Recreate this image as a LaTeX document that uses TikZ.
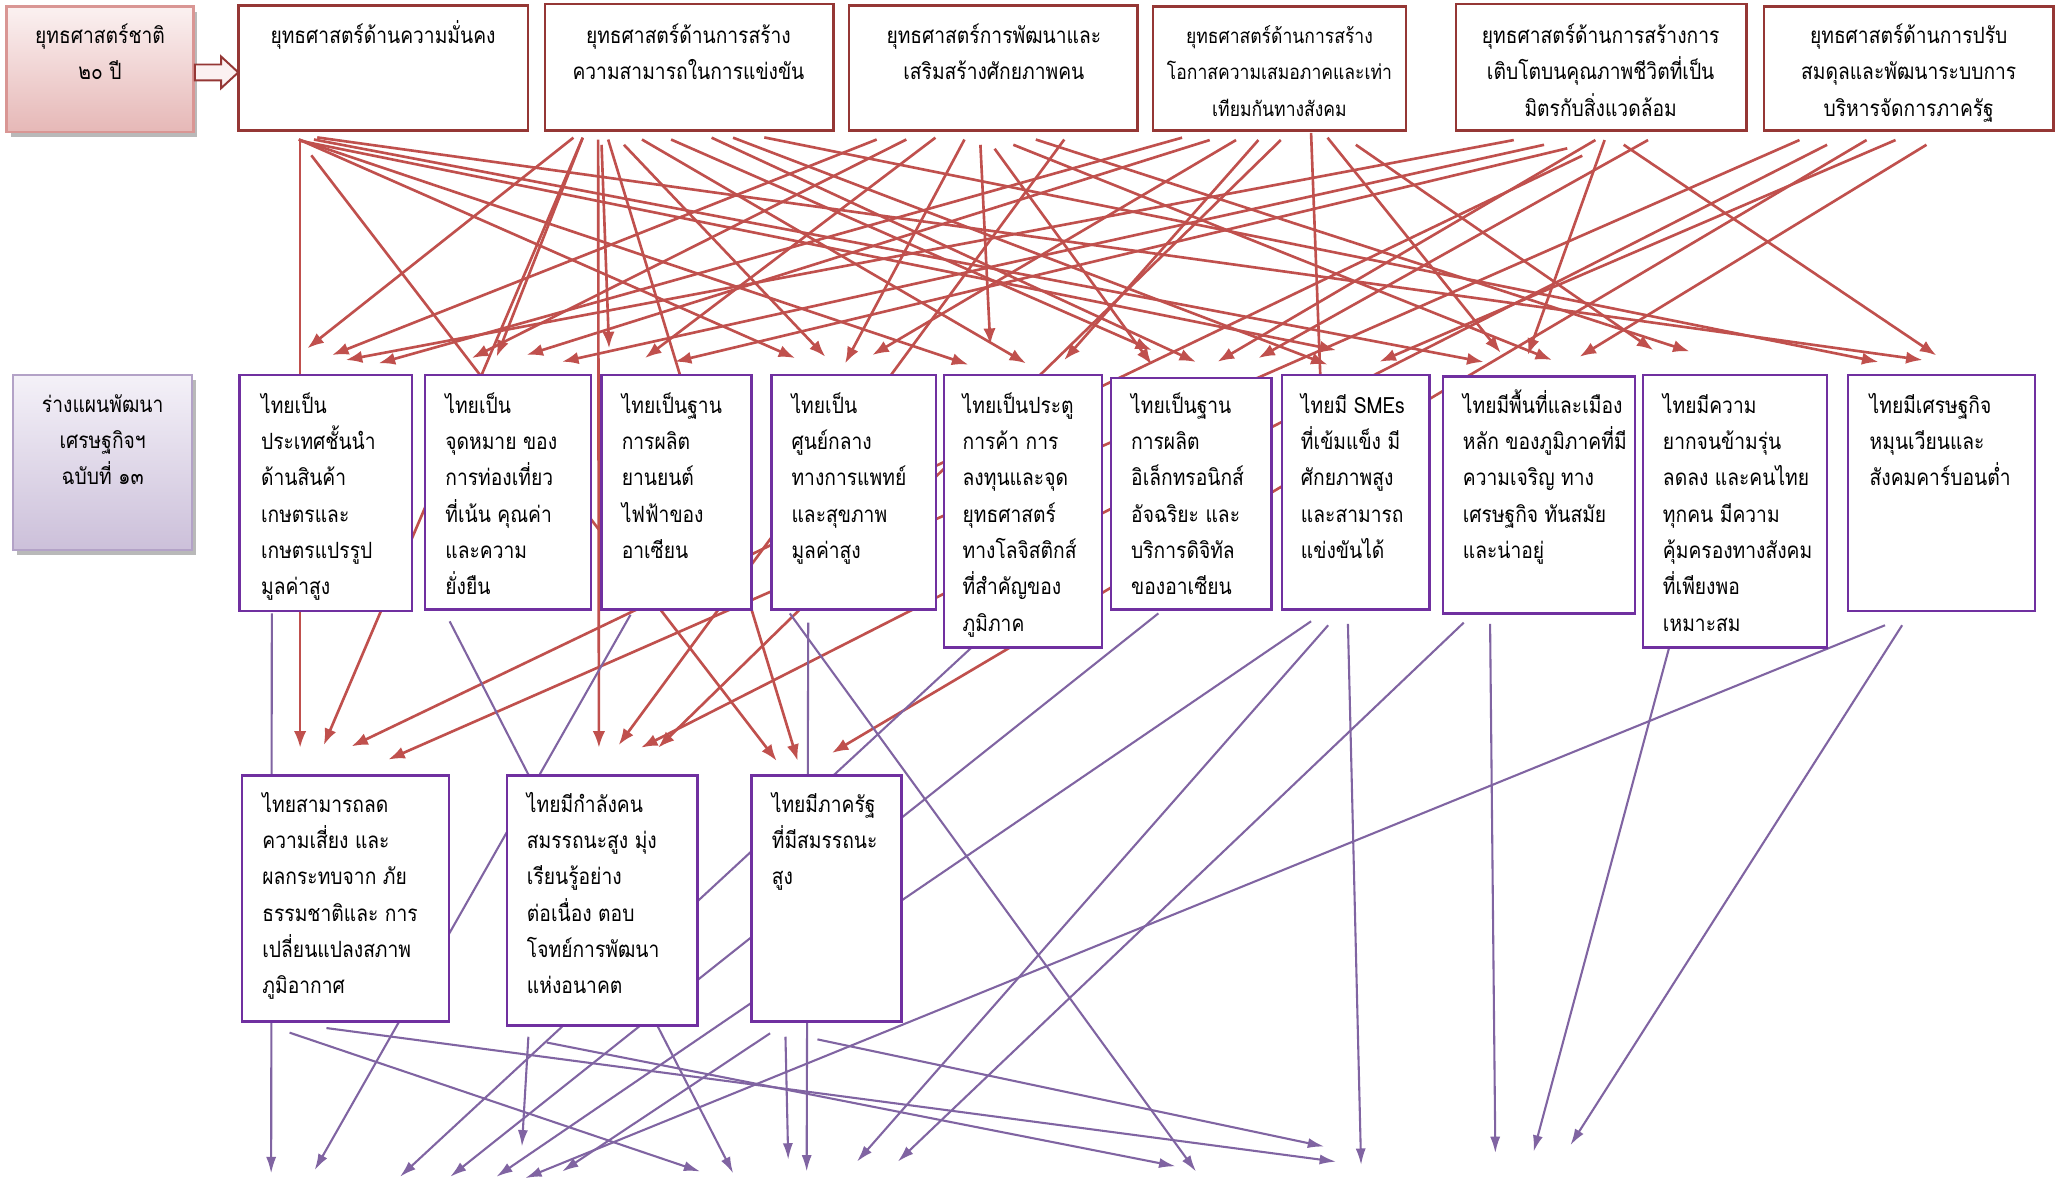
\documentclass[tikz,border=0pt]{standalone}
\usepackage{fontspec}
\newfontfamily\thai[Script=Thai,FakeStretch=0.86]{Loma}
\usetikzlibrary{arrows.meta,fit,calc}
\definecolor{lred}{HTML}{C0504D}
\definecolor{lpur}{HTML}{8064A2}
\definecolor{bred}{HTML}{953735}
\definecolor{bpur}{HTML}{7030A0}
\definecolor{pinkA}{HTML}{FBF1F1}
\definecolor{pinkB}{HTML}{E6B8B7}
\definecolor{pinkE}{HTML}{D99694}
\definecolor{lavA}{HTML}{F4F1F8}
\definecolor{lavB}{HTML}{CCC0DA}
\definecolor{lavE}{HTML}{B3A2C7}
\newcommand\lefttab[1]{\begin{tabular}[t]{@{}l@{}}#1\end{tabular}}
\newcommand\centab[1]{\begin{tabular}[t]{@{}c@{}}#1\end{tabular}}
\tikzset{
  redarr/.style={draw=lred, line width=1.2pt, -{Latex[length=7.5pt,width=5.6pt]}},
  redln/.style={draw=lred, line width=1.2pt},
  purarr/.style={draw=lpur, line width=0.95pt, -{Latex[length=7.5pt,width=4.6pt]}},
  topbox/.style={draw=bred, line width=1.2pt, fill=white, inner sep=0pt},
  midbox/.style={draw=bpur, line width=1.1pt, fill=white, inner sep=0pt},
  txt/.style={anchor=base west, inner sep=0pt},
  ctxt/.style={anchor=base, inner sep=0pt},
}
\begin{document}
\begin{tikzpicture}[x=0.6pt,y=-0.6pt,font={\thai\fontsize{10.2}{16.56}\selectfont}]
\useasboundingbox (0,0) rectangle (1568,902);
\fill[white] (0,0) rectangle (1568,902);

% ---------- red connectors (top row -> middle / bottom rows)
\foreach \xa/\ya/\xb/\yb [count=\i] in {
228/107/228/568, 236.5/118/590/578, 227/106/604/272, 227/106/735.6/277,
228/107/1015/266, 238.5/106/1127/275, 241/104.4/1460.5/273.5,
435.6/104.6/233.5/264.6, 442.7/104.6/377.3/271, 442.7/104.6/246/566,
454.4/106/455/568, 457/110/462.7/264.6, 462/106/606/578, 474/110/627/271,
487.7/106/779.4/276, 509.8/106/875/266, 540.6/104.6/908.5/275,
556.9/104.6/1008.5/277, 580.6/104.4/1427/275, 666/106/252.3/269.7,
688.5/106/358.5/272, 710.6/104.6/490/272, 732.7/106/642/276,
744.8/110/752.3/262, 755.6/113/875/277, 769.8/110/1179/273.5,
786.9/106/1283.5/267, 808.5/106/470/566, 898/104.6/287.7/276,
919/106.4/400/269.7, 939/106.4/662.7/269.7, 956/106.4/808.5/273.5,
973/106.4/500/568, 1008.5/104.6/1140/268, 1030/110/1256/266,
1150/106.4/262.7/273.5, 1173/110/427/274.8, 1190.6/112.7/512.7/274.8,
1202/118.3/267/567, 1212/106.4/925/274.8, 1219/106.4/1160.6/269.7,
1233.5/110/1471/270, 1252/106.4/956/272, 1367/106.4/295/577,
1388/110/487/568, 1418/106.4/632/572, 1440/106.4/1048/274.8,
1463.5/110/1200/271}
{
  \coordinate (rs\i) at (\xa,\ya);
  \coordinate (re\i) at (\xb,\yb);
  \draw[redarr] (rs\i) -- (re\i);
}
\coordinate (rsv) at (996,101);
\coordinate (rev) at (1003,285);
\draw[redln] (rsv) -- (rev);

% ---------- purple connectors (middle / bottom rows -> below)
\foreach \xa/\ya/\xb/\yb [count=\i] in {
206.5/466/206/891.4, 479/467/239/889, 738/492/303.8/894, 880/466/342/894,
996/472/377/894, 1432/475/399/895, 585/785/427/890, 401.4/787.6/396.5/871,
220/784.5/532/890, 341.6/472/557/891.4, 596.7/787.6/598.8/881,
614/473/612.8/890, 1009/475/651/882.5, 1112/473/682/882.5,
415.4/792/893/886, 600/466/908.6/890, 621/789.6/1006/871,
248/781/1015/882.5, 1024/474/1034/885, 1132/474/1136/876,
1268/492/1165/875, 1445/475/1193/870}
{
  \coordinate (ps\i) at (\xa,\ya);
  \coordinate (pe\i) at (\xb,\yb);
  \draw[purarr] (ps\i) -- (pe\i);
}

% ---------- top row
\fill[gray!55] (8,9) rectangle (150,104);
\node[fit={(5,5) (147,100)}, inner sep=0pt, draw=pinkE, line width=1pt,
      top color=pinkA, bottom color=pinkB] (nat) {};
\node[ctxt] (natt) at (76,33) {\centab{ยุทธศาสตร์ชาติ\\๒๐ ปี}};
\draw[draw=bred, fill=pinkA, line width=0.9pt] (148,49) -- (168,49) -- (168,43) -- (181,55) -- (168,67) -- (168,61) -- (148,61) -- cycle;

\node[topbox, fit={(181,4) (401,99)}] (t1) {};
\node[topbox, fit={(414,3) (633,99)}] (t2) {};
\node[topbox, fit={(645,4) (864,99)}] (t3) {};
\node[topbox, fit={(876,5) (1068,99)}] (t4) {};
\node[topbox, fit={(1106,3) (1327,99)}] (t5) {};
\node[topbox, fit={(1340,5) (1560,99)}] (t6) {};
\node[ctxt] (t1t) at (291,33) {\centab{ยุทธศาสตร์ด้านความมั่นคง}};
\node[ctxt] (t2t) at (523,33) {\centab{ยุทธศาสตร์ด้านการสร้าง\\ความสามารถในการแข่งขัน}};
\node[ctxt] (t3t) at (755,33) {\centab{ยุทธศาสตร์การพัฒนาและ\\เสริมสร้างศักยภาพคน}};
\node[ctxt, font={\thai\fontsize{9.3}{16.56}\selectfont}] (t4t) at (972,33) {\centab{ยุทธศาสตร์ด้านการสร้าง\\โอกาสความเสมอภาคและเท่า\\เทียมกันทางสังคม}};
\node[ctxt] (t5t) at (1216,33) {\centab{ยุทธศาสตร์ด้านการสร้างการ\\เติบโตบนคุณภาพชีวิตที่เป็น\\มิตรกับสิ่งแวดล้อม}};
\node[ctxt] (t6t) at (1450,33) {\centab{ยุทธศาสตร์ด้านการปรับ\\สมดุลและพัฒนาระบบการ\\บริหารจัดการภาครัฐ}};

% ---------- middle row
\fill[gray!55] (13,289) rectangle (149,422);
\node[fit={(10,285) (146,418)}, inner sep=0pt, draw=lavE, line width=1pt,
      top color=lavA, bottom color=lavB] (plan) {};
\node[ctxt] (plant) at (78,313) {\centab{ร่างแผนพัฒนา\\เศรษฐกิจฯ\\ฉบับที่ ๑๓}};

\node[midbox, fit={(182,285) (313,464)}] (m1) {};
\node[midbox, fit={(323,285) (449,463)}] (m2) {};
\node[midbox, fit={(457,285) (571,463)}] (m3) {};
\node[midbox, fit={(586,285) (711,463)}] (m4) {};
\node[midbox, fit={(717,285) (837,492)}] (m5) {};
\node[midbox, fit={(844,287) (966,463)}] (m6) {};
\node[midbox, fit={(974,285) (1086,463)}] (m7) {};
\node[midbox, fit={(1096,286) (1242,466)}] (m8) {};
\node[midbox, fit={(1248,285) (1388,492)}] (m9) {};
\node[midbox, fit={(1404,285) (1546,464)}] (m10) {};
\node[txt] (m1t) at (198,314) {\lefttab{ไทยเป็น\\ประเทศชั้นนำ\\ด้านสินค้า\\เกษตรและ\\เกษตรแปรรูป\\มูลค่าสูง}};
\node[txt] (m2t) at (338,314) {\lefttab{ไทยเป็น\\จุดหมาย ของ\\การท่องเที่ยว\\ที่เน้น คุณค่า\\และความ\\ยั่งยืน}};
\node[txt] (m3t) at (472,314) {\lefttab{ไทยเป็นฐาน\\การผลิต\\ยานยนต์\\ไฟฟ้าของ\\อาเซียน}};
\node[txt] (m4t) at (601,314) {\lefttab{ไทยเป็น\\ศูนย์กลาง\\ทางการแพทย์\\และสุขภาพ\\มูลค่าสูง}};
\node[txt] (m5t) at (731,314) {\lefttab{ไทยเป็นประตู\\การค้า การ\\ลงทุนและจุด\\ยุทธศาสตร์\\ทางโลจิสติกส์\\ที่สำคัญของ\\ภูมิภาค}};
\node[txt] (m6t) at (859,314) {\lefttab{ไทยเป็นฐาน\\การผลิต\\อิเล็กทรอนิกส์\\อัจฉริยะ และ\\บริการดิจิทัล\\ของอาเซียน}};
\node[txt] (m7t) at (988,314) {\lefttab{ไทยมี SMEs\\ที่เข้มแข็ง มี\\ศักยภาพสูง\\และสามารถ\\แข่งขันได้}};
\node[txt] (m8t) at (1111,314) {\lefttab{ไทยมีพื้นที่และเมือง\\หลัก ของภูมิภาคที่มี\\ความเจริญ ทาง\\เศรษฐกิจ ทันสมัย\\และน่าอยู่}};
\node[txt] (m9t) at (1263,314) {\lefttab{ไทยมีความ\\ยากจนข้ามรุ่น\\ลดลง และคนไทย\\ทุกคน มีความ\\คุ้มครองทางสังคม\\ที่เพียงพอ\\เหมาะสม}};
\node[txt] (m10t) at (1420,314) {\lefttab{ไทยมีเศรษฐกิจ\\หมุนเวียนและ\\สังคมคาร์บอนต่ำ}};

% ---------- bottom row
\node[midbox, fit={(184,589) (341,776)}] (b1) {};
\node[midbox, fit={(385,589) (530,779)}] (b2) {};
\node[midbox, fit={(571,589) (685,776)}] (b3) {};
\node[txt] (b1t) at (199,617) {\lefttab{ไทยสามารถลด\\ความเสี่ยง และ\\ผลกระทบจาก ภัย\\ธรรมชาติและ การ\\เปลี่ยนแปลงสภาพ\\ภูมิอากาศ}};
\node[txt] (b2t) at (400,617) {\lefttab{ไทยมีกำลังคน\\สมรรถนะสูง มุ่ง\\เรียนรู้อย่าง\\ต่อเนื่อง ตอบ\\โจทย์การพัฒนา\\แห่งอนาคต}};
\node[txt] (b3t) at (586,617) {\lefttab{ไทยมีภาครัฐ\\ที่มีสมรรถนะ\\สูง}};
\end{tikzpicture}
\end{document}
